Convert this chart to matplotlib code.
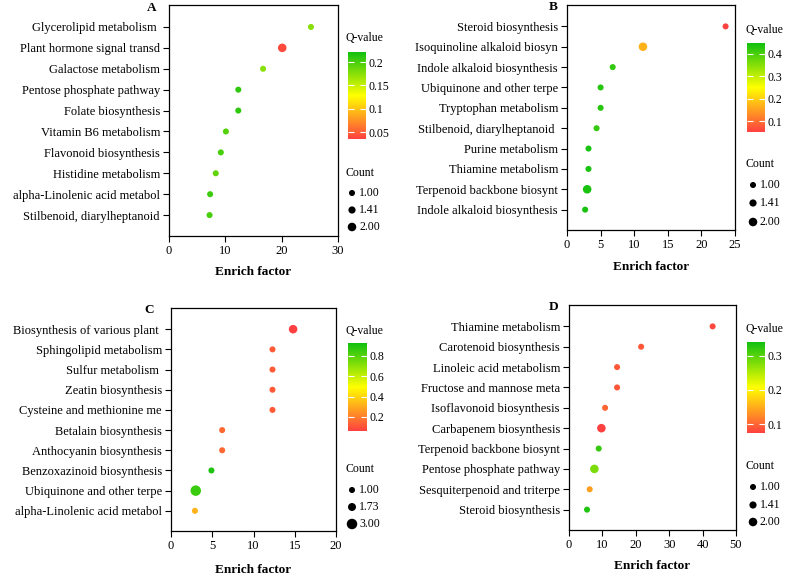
import matplotlib
matplotlib.use("Agg")
import matplotlib.pyplot as plt
from matplotlib.colors import LinearSegmentedColormap

plt.rcParams['font.family'] = ['Liberation Serif', 'DejaVu Serif']
plt.rcParams['font.size'] = 9

W, H = 786, 577

# panel A
a_terms = ['Glycerolipid metabolism ', 'Plant hormone signal transd', 'Galactose metabolism',
           'Pentose phosphate pathway', 'Folate biosynthesis', 'Vitamin B6 metabolism',
           'Flavonoid biosynthesis', 'Histidine metabolism', 'alpha-Linolenic acid metabol',
           'Stilbenoid, diarylheptanoid']
a_factor = [25.2, 20.1, 16.7, 12.3, 12.3, 10.1, 9.2, 8.3, 7.3, 7.2]
a_q = [0.175, 0.04, 0.175, 0.21, 0.21, 0.195, 0.2, 0.19, 0.205, 0.2]
a_count = [1, 2, 1, 1, 1, 1, 1, 1, 1, 1]

# panel B
b_terms = ['Steroid biosynthesis', 'Isoquinoline alkaloid biosyn', 'Indole alkaloid biosynthesis',
           'Ubiquinone and other terpe', 'Tryptophan metabolism', 'Stilbenoid, diarylheptanoid ',
           'Purine metabolism', 'Thiamine metabolism', 'Terpenoid backbone biosynt',
           'Indole alkaloid biosynthesis']
b_factor = [23.6, 11.3, 6.8, 5.0, 5.0, 4.4, 3.2, 3.2, 3.0, 2.7]
b_q = [0.055, 0.17, 0.42, 0.43, 0.43, 0.42, 0.44, 0.44, 0.44, 0.44]
b_count = [1, 2, 1, 1, 1, 1, 1, 1, 2, 1]

# panel C
c_terms = ['Biosynthesis of various plant ', 'Sphingolipid metabolism', 'Sulfur metabolism ',
           'Zeatin biosynthesis', 'Cysteine and methionine me', 'Betalain biosynthesis',
           'Anthocyanin biosynthesis', 'Benzoxazinoid biosynthesis', 'Ubiquinone and other terpe',
           'alpha-Linolenic acid metabol']
c_factor = [14.8, 12.3, 12.3, 12.3, 12.3, 6.2, 6.2, 4.9, 3.0, 2.9]
c_q = [0.065, 0.12, 0.12, 0.12, 0.12, 0.15, 0.15, 0.9, 0.85, 0.32]
c_count = [2, 1, 1, 1, 1, 1, 1, 1, 3, 1]

# panel D
d_terms = ['Thiamine metabolism', 'Carotenoid biosynthesis', 'Linoleic acid metabolism',
           'Fructose and mannose meta', 'Isoflavonoid biosynthesis', 'Carbapenem biosynthesis',
           'Terpenoid backbone biosynt', 'Pentose phosphate pathway', 'Sesquiterpenoid and triterpe',
           'Steroid biosynthesis']
d_factor = [43.0, 21.6, 14.4, 14.4, 10.8, 9.7, 8.9, 7.6, 6.2, 5.4]
d_q = [0.08, 0.09, 0.09, 0.09, 0.1, 0.075, 0.32, 0.28, 0.14, 0.33]
d_count = [1, 1, 1, 1, 1, 2, 1, 2, 1, 1]

cmap = LinearSegmentedColormap.from_list(
    'qval', [(0, '#ff4040'), (0.25, '#ffa020'), (0.5, '#ffff00'), (1, '#10c010')])

fig = plt.figure(figsize=(W / 100, H / 100), dpi=100)


def rect(x0, y0, x1, y1):
    # pixel box -> figure fraction
    return [x0 / W, 1 - y1 / H, (x1 - x0) / W, (y1 - y0) / H]


def panel(p):
    ax = fig.add_axes(rect(*p['ax']))
    n = len(p['terms'])
    ypos = list(range(n, 0, -1))
    sizes = [19 * c for c in p['count']]
    sc = ax.scatter(p['factor'], ypos, s=sizes, c=p['q'], cmap=cmap,
                    vmin=p['qlim'][0], vmax=p['qlim'][1], linewidths=0, zorder=3)
    ax.set_xlim(0, p['xmax'])
    ax.set_ylim(0, n + 1.05)
    ax.set_xticks(p['xticks'])
    ax.set_yticks(ypos)
    ax.set_yticklabels(p['terms'])
    ax.tick_params(length=4, width=0.8, pad=2.5, labelsize=9)
    for s in ax.spines.values():
        s.set_linewidth(0.9)

    cax = fig.add_axes(rect(*p['cbar']))
    cb = fig.colorbar(sc, cax=cax)
    cb.outline.set_visible(False)
    cb.set_ticks(p['qticks'])
    cb.set_ticklabels(p['qlabels'])
    cax.tick_params(left=True, right=True, direction='in', color='white',
                    length=4, width=0.8, pad=1.5, labelsize=8.5)
    return ax


panels = [
    dict(terms=a_terms, factor=a_factor, q=a_q, count=a_count, ax=(169, 5, 338, 236),
         xmax=30, xticks=[0, 10, 20, 30], qlim=(0.035, 0.222), cbar=(348, 52, 366, 139),
         qticks=[0.05, 0.1, 0.15, 0.2], qlabels=['0.05', '0.1', '0.15', '0.2'],
         letter=(152, 11, 'A'), title_y=38, count_y=173, items=[193, 210, 227],
         cnt_labels=['1.00', '1.41', '2.00'], cnt_sizes=[1, 2 ** 0.5, 2], lx=345),
    dict(terms=b_terms, factor=b_factor, q=b_q, count=b_count, ax=(567, 5, 735, 230),
         xmax=25, xticks=[0, 5, 10, 15, 20, 25], qlim=(0.052, 0.449), cbar=(747, 43, 765, 132),
         qticks=[0.1, 0.2, 0.3, 0.4], qlabels=['0.1', '0.2', '0.3', '0.4'],
         letter=(553, 10, 'B'), title_y=30, count_y=164, items=[185, 203, 222],
         cnt_labels=['1.00', '1.41', '2.00'], cnt_sizes=[1, 2 ** 0.5, 2], lx=746),
    dict(terms=c_terms, factor=c_factor, q=c_q, count=c_count, ax=(171, 308, 336, 531),
         xmax=20, xticks=[0, 5, 10, 15, 20], qlim=(0.062, 0.925), cbar=(348, 343, 367, 431),
         qticks=[0.2, 0.4, 0.6, 0.8], qlabels=['0.2', '0.4', '0.6', '0.8'],
         letter=(149, 313, 'C'), title_y=331, count_y=469, items=[490, 507, 524],
         cnt_labels=['1.00', '1.73', '3.00'], cnt_sizes=[1, 3 ** 0.5, 3], lx=345),
    dict(terms=d_terms, factor=d_factor, q=d_q, count=d_count, ax=(569, 305, 736, 530),
         xmax=50, xticks=[0, 10, 20, 30, 40, 50], qlim=(0.074, 0.34), cbar=(747, 342, 765, 433),
         qticks=[0.1, 0.2, 0.3], qlabels=['0.1', '0.2', '0.3'],
         letter=(554, 310, 'D'), title_y=329, count_y=466, items=[487, 505, 522],
         cnt_labels=['1.00', '1.41', '2.00'], cnt_sizes=[1, 2 ** 0.5, 2], lx=746),
]

for p in panels:
    panel(p)

# overlay in pixel coords for titles, letters and the count legends
ov = fig.add_axes([0, 0, 1, 1])
ov.set_xlim(0, W)
ov.set_ylim(H, 0)
ov.axis('off')

xlab_y = [272, 267, 570, 566]
for p, yl in zip(panels, xlab_y):
    x0, y0, x1, y1 = p['ax']
    lx, ly, letter = p['letter']
    ov.text(lx, ly, letter, fontsize=9.5, fontweight='bold', ha='center', va='baseline')
    ov.text((x0 + x1) / 2, yl, 'Enrich factor', fontsize=9.5, fontweight='bold',
            ha='center', va='center')
    ov.text(p['lx'], p['title_y'], 'Q-value', fontsize=8.5, ha='left', va='center')
    ov.text(p['lx'], p['count_y'], 'Count', fontsize=8.5, ha='left', va='center')
    ov.scatter([p['lx'] + 7] * 3, p['items'], s=[19 * c for c in p['cnt_sizes']],
               color='black', linewidths=0)
    for yy, lab in zip(p['items'], p['cnt_labels']):
        ov.text(p['lx'] + 14, yy, lab, fontsize=8.5, ha='left', va='center')

fig.savefig('out.png', dpi=100)
